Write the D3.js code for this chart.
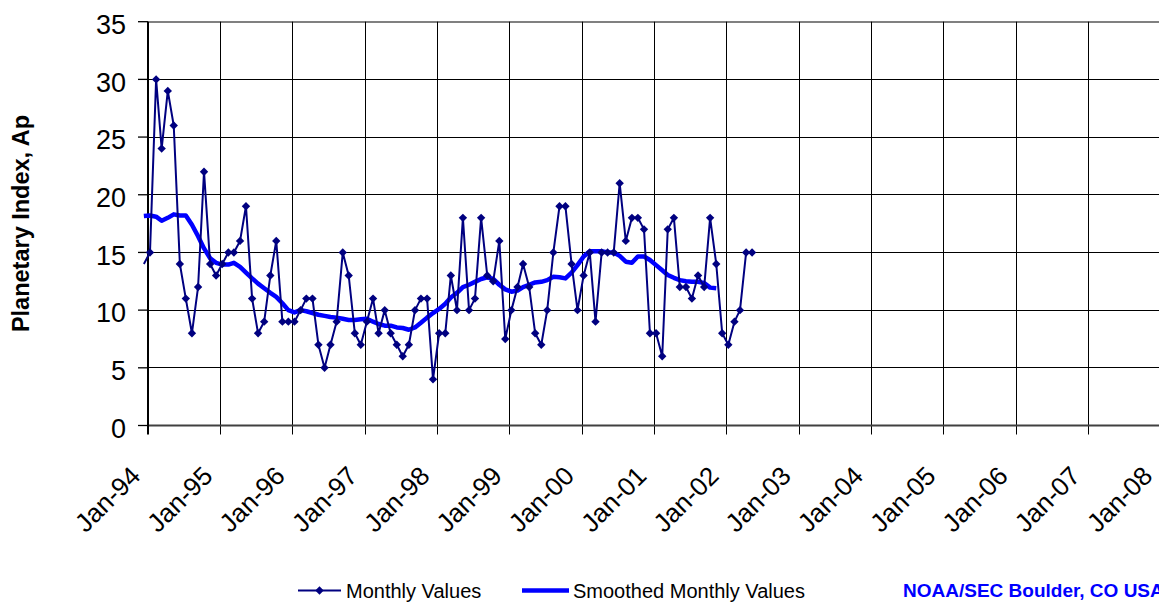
<!DOCTYPE html>
<html><head><meta charset="utf-8">
<script src="https://cdn.jsdelivr.net/npm/d3@7"></script>
<style>
html,body{margin:0;padding:0;background:#fff;}
text{font-family:"Liberation Sans",Arial,sans-serif;}
</style></head>
<body><svg id="c" width="1159" height="608"></svg>
<script>
// Data (monthly Ap index, starting Dec 1993)
const firstMonth = "1993-12";
const monthlyValues = [14,
  15,30,24,29,26,14,11,8,12,22,14,13,
  14,15,15,16,19,11,8,9,13,16,9,9,
  9,10,11,11,7,5,7,9,15,13,8,7,
  9,11,8,10,8,7,6,7,10,11,11,4,
  8,8,13,10,18,10,11,18,13,12.5,16,7.5,
  10,12,14,12,8,7,10,15,19,19,14,10,
  13,15,9,15,15,15,21,16,18,18,17,8,
  8,6,17,18,12,12,11,13,12,18,14,8,
  7,9,10,15,15];
const smoothedValues = [18.15,
  18.2,18.1,17.75,18.0,18.3,18.2,18.2,17.4,16.4,15.35,14.5,14.1,
  13.95,13.95,14.1,13.75,13.25,12.75,12.3,11.9,11.5,11.15,10.6,10.0,
  9.8,10.0,9.9,9.75,9.6,9.5,9.4,9.35,9.25,9.15,9.15,9.2,
  9.25,9.0,8.8,8.65,8.65,8.5,8.45,8.3,8.5,8.9,9.35,9.75,
  10.1,10.55,11.1,11.5,12.0,12.2,12.45,12.7,12.85,12.7,12.2,11.8,
  11.6,11.7,12.0,12.2,12.4,12.45,12.6,12.9,12.85,12.75,13.25,13.9,
  14.65,15.1,15.1,15.1,15.0,15.0,14.7,14.2,14.1,14.65,14.65,14.35,
  13.9,13.45,13.05,12.8,12.6,12.5,12.45,12.45,12.35,11.95,11.9];
const yTicks = [0,5,10,15,20,25,30,35];
const xTickYears = [1994,1995,1996,1997,1998,1999,2000,2001,2002,2003,2004,2005,2006,2007,2008];
const xTickLabels = ["Jan-94","Jan-95","Jan-96","Jan-97","Jan-98","Jan-99","Jan-00","Jan-01","Jan-02","Jan-03","Jan-04","Jan-05","Jan-06","Jan-07","Jan-08"];
const yTitle = "Planetary Index, Ap";
const legendLabels = ["Monthly Values","Smoothed Monthly Values"];
const credit = "NOAA/SEC Boulder, CO USA";

const [fy, fm] = firstMonth.split("-").map(Number);
const dateOf = i => new Date(fy, fm - 1 + i, 11);

const svg = d3.select("#c");
const L = 148, R = 1160, T = 21.7, B = 425.5;
const x = d3.scaleTime().domain([new Date(1994,0,1), new Date(2008,0,1)]).range([L, R]);
const y = d3.scaleLinear().domain([0,35]).range([B, T]);

// horizontal gridlines
svg.append("g").selectAll("line").data(yTicks.filter(v => v > 0)).join("line")
  .attr("x1", L).attr("x2", 1159).attr("y1", d => y(d)).attr("y2", d => y(d))
  .attr("stroke", d => d === 35 ? "#808080" : "#000").attr("stroke-width", d => d === 35 ? 2 : 1)
  .attr("shape-rendering","crispEdges");
// vertical gridlines
svg.append("g").selectAll("line").data(xTickYears.slice(1)).join("line")
  .attr("x1", d => Math.round(x(new Date(d,0,1)))+0.5).attr("x2", d => Math.round(x(new Date(d,0,1)))+0.5)
  .attr("y1", T).attr("y2", B + 9)
  .attr("stroke", "#000").attr("stroke-width", 1);
// bottom axis
svg.append("line").attr("x1", L).attr("x2", 1159).attr("y1", B).attr("y2", B)
  .attr("stroke", "#404040").attr("stroke-width", 2);
// y axis
svg.append("line").attr("x1", L).attr("x2", L).attr("y1", T).attr("y2", B + 9)
  .attr("stroke", "#000").attr("stroke-width", 2);
// y ticks
svg.append("g").selectAll("line").data(yTicks).join("line")
  .attr("x1", L - 10).attr("x2", L).attr("y1", d => y(d)).attr("y2", d => y(d))
  .attr("stroke", "#000").attr("stroke-width", 1.3);
svg.append("g").selectAll("text").data(yTicks).join("text")
  .attr("x", 126).attr("y", d => y(d)).attr("dy", "0.45em")
  .attr("text-anchor", "end").attr("font-size", 27).text(d => d);
// x labels
svg.append("g").selectAll("text").data(xTickYears).join("text")
  .attr("transform", (d) => `translate(${x(new Date(d,0,1)) - 6},${B + 52}) rotate(-45)`)
  .attr("text-anchor", "end").attr("font-size", 26)
  .text((d,i) => xTickLabels[i]);
// y title
svg.append("text").attr("transform", `translate(29,${(110+337)/2}) rotate(-90)`)
  .attr("text-anchor","middle").attr("font-size", 23.5).attr("font-weight","bold").text(yTitle);

// clip
svg.append("clipPath").attr("id","clip").append("rect").attr("x", L-5).attr("y", 0).attr("width", 1159).attr("height", B);

const monthly = monthlyValues.map((v,i) => ({d: dateOf(i), v}));
const smooth = smoothedValues.map((v,i) => ({d: dateOf(i), v}));
const line = d3.line().x(p => x(p.d)).y(p => y(p.v));

svg.append("path").attr("clip-path","url(#clip)").attr("d", line(smooth))
  .attr("fill","none").attr("stroke","#0000FF").attr("stroke-width",4.5).attr("stroke-linejoin","round");
svg.append("path").attr("clip-path","url(#clip)").attr("d", line(monthly))
  .attr("fill","none").attr("stroke","#000080").attr("stroke-width",2).attr("stroke-linejoin","round");
const diamond = "M0,-4.2L4.2,0L0,4.2L-4.2,0Z";
svg.append("g").selectAll("path").data(monthly.filter(p => p.d >= x.domain()[0])).join("path")
  .attr("transform", p => `translate(${x(p.d)},${y(p.v)})`).attr("d", diamond).attr("fill","#000080");

// legend
const ly = 590.5;
svg.append("line").attr("x1",298).attr("x2",341).attr("y1",ly).attr("y2",ly).attr("stroke","#000080").attr("stroke-width",2);
svg.append("path").attr("transform",`translate(319.5,${ly})`).attr("d",diamond).attr("fill","#000080");
svg.append("text").attr("x",346).attr("y",ly).attr("dy","0.36em").attr("font-size",20).text(legendLabels[0]);
svg.append("line").attr("x1",522).attr("x2",569).attr("y1",ly).attr("y2",ly).attr("stroke","#0000FF").attr("stroke-width",4.5);
svg.append("text").attr("x",573).attr("y",ly).attr("dy","0.36em").attr("font-size",20).text(legendLabels[1]);
svg.append("text").attr("x",903).attr("y",ly).attr("dy","0.36em").attr("font-size",19).attr("font-weight","bold")
  .attr("fill","#0000FF").text(credit);
</script></body></html>
